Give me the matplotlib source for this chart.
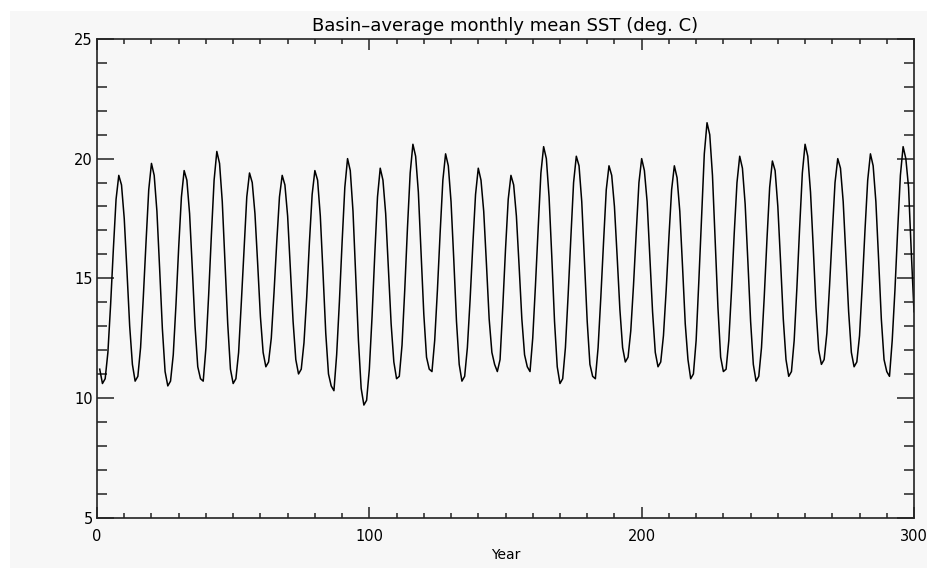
import numpy as np
import matplotlib.pyplot as plt
from matplotlib.patches import Rectangle
from matplotlib.ticker import MultipleLocator

# Basin-average monthly mean SST (deg C), months 1..300
sst_yr01_05 = [
    11.2, 10.6, 10.8, 11.9, 13.9, 16.2, 18.3, 19.3, 18.9, 17.5, 15.3, 13.0,
    11.4, 10.7, 10.9, 12.1, 14.2, 16.5, 18.7, 19.8, 19.3, 17.8, 15.4, 12.9,
    11.1, 10.5, 10.7, 11.8, 13.9, 16.3, 18.4, 19.5, 19.1, 17.7, 15.4, 13.0,
    11.3, 10.8, 10.7, 12.1, 14.3, 16.8, 19.1, 20.3, 19.8, 18.2, 15.7, 13.1,
    11.2, 10.6, 10.8, 11.9, 14.0, 16.2, 18.4, 19.4, 19.0, 17.7, 15.6, 13.4,
]
sst_yr06_10 = [
    11.9, 11.3, 11.5, 12.5, 14.4, 16.5, 18.4, 19.3, 18.9, 17.6, 15.4, 13.2,
    11.6, 11.0, 11.2, 12.3, 14.2, 16.5, 18.5, 19.5, 19.1, 17.6, 15.2, 12.7,
    11.0, 10.5, 10.3, 11.8, 14.0, 16.5, 18.8, 20.0, 19.5, 17.8, 15.1, 12.4,
    10.4, 9.7, 9.9, 11.2, 13.4, 16.0, 18.4, 19.6, 19.1, 17.7, 15.4, 13.1,
    11.5, 10.8, 10.9, 12.2, 14.5, 17.1, 19.4, 20.6, 20.1, 18.6, 16.1, 13.5,
]
sst_yr11_15 = [
    11.7, 11.2, 11.1, 12.4, 14.5, 16.9, 19.1, 20.2, 19.7, 18.2, 15.8, 13.2,
    11.4, 10.7, 10.9, 12.1, 14.1, 16.4, 18.5, 19.6, 19.1, 17.8, 15.6, 13.3,
    11.9, 11.4, 11.1, 11.6, 13.8, 16.2, 18.3, 19.3, 18.9, 17.6, 15.5, 13.3,
    11.8, 11.3, 11.1, 12.5, 14.7, 17.1, 19.4, 20.5, 20.0, 18.4, 15.9, 13.2,
    11.3, 10.6, 10.8, 12.1, 14.3, 16.7, 19.0, 20.1, 19.7, 18.2, 15.7, 13.2,
]
sst_yr16_20 = [
    11.4, 10.9, 10.8, 12.1, 14.2, 16.5, 18.7, 19.7, 19.3, 18.0, 15.9, 13.7,
    12.1, 11.5, 11.7, 12.8, 14.7, 16.9, 19.0, 20.0, 19.5, 18.2, 15.9, 13.6,
    11.9, 11.3, 11.5, 12.6, 14.5, 16.7, 18.7, 19.7, 19.2, 17.8, 15.5, 13.1,
    11.6, 10.8, 11.0, 12.4, 14.9, 17.6, 20.2, 21.5, 21.0, 19.3, 16.6, 13.8,
    11.7, 11.1, 11.2, 12.4, 14.5, 16.9, 19.0, 20.1, 19.6, 18.1, 15.7, 13.2,
]
sst_yr21_25 = [
    11.4, 10.7, 10.9, 12.1, 14.2, 16.6, 18.8, 19.9, 19.5, 18.0, 15.7, 13.3,
    11.6, 10.9, 11.1, 12.4, 14.6, 17.1, 19.4, 20.6, 20.1, 18.6, 16.3, 13.8,
    12.0, 11.4, 11.6, 12.7, 14.7, 16.9, 19.0, 20.0, 19.6, 18.2, 15.9, 13.6,
    11.9, 11.3, 11.5, 12.6, 14.7, 17.0, 19.1, 20.2, 19.7, 18.2, 15.8, 13.3,
    11.6, 11.1, 10.9, 12.4, 14.5, 17.0, 19.3, 20.5, 20.0, 18.8, 16.1, 13.6,
]

sst = np.array(sst_yr01_05 + sst_yr06_10 + sst_yr11_15 + sst_yr16_20 + sst_yr21_25)
months = np.arange(1, len(sst) + 1)

bg = '#f7f7f7'
ink = '#222222'

fig = plt.figure(figsize=(9.28, 5.70), dpi=100, facecolor='white')
# light grey plotting canvas, offset from the top-left corner
canvas = Rectangle((10 / 928, 2 / 570), 918 / 928, 557 / 570,
                   transform=fig.transFigure, facecolor=bg,
                   edgecolor='none', zorder=-10)
fig.add_artist(canvas)

ax = fig.add_axes([97 / 928, 1 - 517.5 / 570, 817 / 928, 478.5 / 570])
ax.set_zorder(5)
ax.set_facecolor(bg)

ax.plot(months, sst, color='black', lw=1.1)

ax.set_xlim(0, 300)
ax.set_ylim(5, 25)
ax.xaxis.set_major_locator(MultipleLocator(100))
ax.xaxis.set_minor_locator(MultipleLocator(10))
ax.yaxis.set_major_locator(MultipleLocator(5))
ax.yaxis.set_minor_locator(MultipleLocator(1))

ax.tick_params(axis='both', which='both', direction='in', top=True, right=True,
               colors=ink, labelcolor='black', width=1.1)
ax.tick_params(axis='x', which='major', length=8, pad=8, labelsize=10.5)
ax.tick_params(axis='x', which='minor', length=3.5)
ax.tick_params(axis='y', which='major', length=12, pad=3, labelsize=10.5)
ax.tick_params(axis='y', which='minor', length=7)

for s in ax.spines.values():
    s.set_color(ink)
    s.set_linewidth(1.2)

ax.set_title('Basin\u2013average monthly mean SST (deg. C)', fontsize=13, pad=6)
ax.set_xlabel('Year', fontsize=10, labelpad=3)

plt.savefig('out.png', dpi=100, facecolor='white')
